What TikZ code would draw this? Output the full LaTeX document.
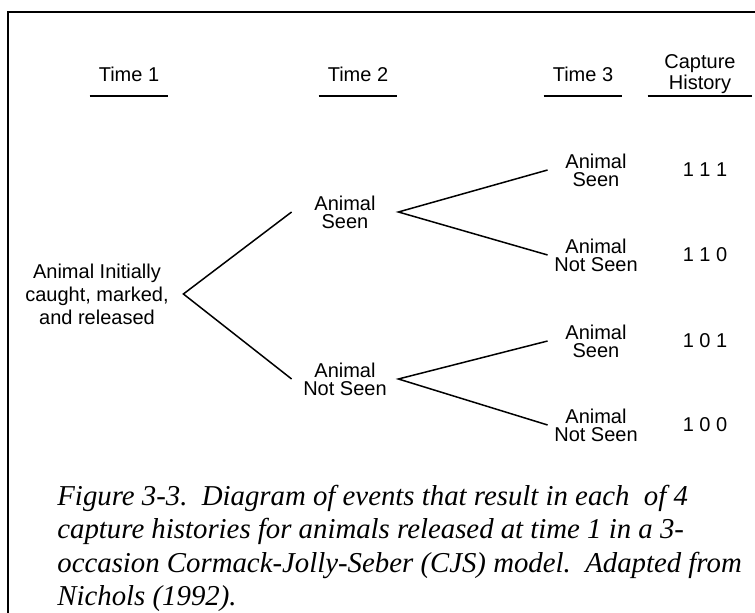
\documentclass[tikz,border=0pt]{standalone}
\usepackage{fontspec}
\setmainfont{Liberation Serif}
\setsansfont{Liberation Sans}
\usetikzlibrary{positioning}

\begin{document}
\begin{tikzpicture}[
  x=0.5pt, y=-0.5pt,
  font=\sffamily\fontsize{10}{9}\selectfont,
  node distance=4mm and 19pt,
  event/.style={align=center, inner sep=0pt},
  mid/.style={event, minimum width=53pt},
  leaf/.style={event, minimum width=48pt},
  head/.style={anchor=south, inner xsep=0pt, inner ysep=7pt, minimum width=39pt},
  hist/.style={inner sep=0pt},
  branch/.style={line width=0.75pt},
  rule/.style={line width=0.8pt},
  caption/.style={align=left, inner sep=0pt, font=\rmfamily\itshape\fontsize{14.4}{16.6}\selectfont}
]
\useasboundingbox (0,0) rectangle (755,613);
\draw[line width=1pt] (8,613) -- (8,12) -- (755,12);

% column heads
\node[head] (t1) at (129,96) {Time 1};
\node[head] (t2) at (358,96) {Time 2};
\node[head] (t3) at (583,96) {Time 3};
\node[head, align=center, inner ysep=1pt, minimum width=52pt,
      font=\sffamily\fontsize{10}{10.5}\selectfont] (ch) at (700,96) {Capture\\History};
\foreach \h in {t1,t2,t3,ch}
  \draw[rule] (\h.south west) -- (\h.south east);

% the tree
\node[event, minimum width=86pt, font=\sffamily\fontsize{10}{11.5}\selectfont] (root) at (97,294)
  {Animal Initially\\caught, marked,\\and released};
\node[mid] (s2) at (345,212) {Animal\\Seen};
\node[mid] (n2) at (345,379) {Animal\\Not Seen};
\node[leaf] (s3a) at (596,170) {Animal\\Seen};
\node[leaf] (n3a) at (596,255) {Animal\\Not Seen};
\node[leaf] (s3b) at (596,341) {Animal\\Seen};
\node[leaf] (n3b) at (596,425) {Animal\\Not Seen};

\node[hist, right=of s3a] (h111) {1 1 1};
\node[hist, right=of n3a] (h110) {1 1 0};
\node[hist, right=of s3b] (h101) {1 0 1};
\node[hist, right=of n3b] (h100) {1 0 0};

\draw[branch] (s2.west) -- (root.east) -- (n2.west);
\draw[branch] (s3a.west) -- (s2.east) -- (n3a.west);
\draw[branch] (s3b.west) -- (n2.east) -- (n3b.west);

% caption
\node[caption, anchor=north west] (cap) at (57,485)
  {Figure 3-3.\ \ Diagram of events that result in each\ \ of 4\\
   capture histories for animals released at time 1 in a 3-\\
   occasion Cormack-Jolly-Seber (CJS) model.\ \ Adapted from\\
   Nichols (1992).};
\end{tikzpicture}
\end{document}
